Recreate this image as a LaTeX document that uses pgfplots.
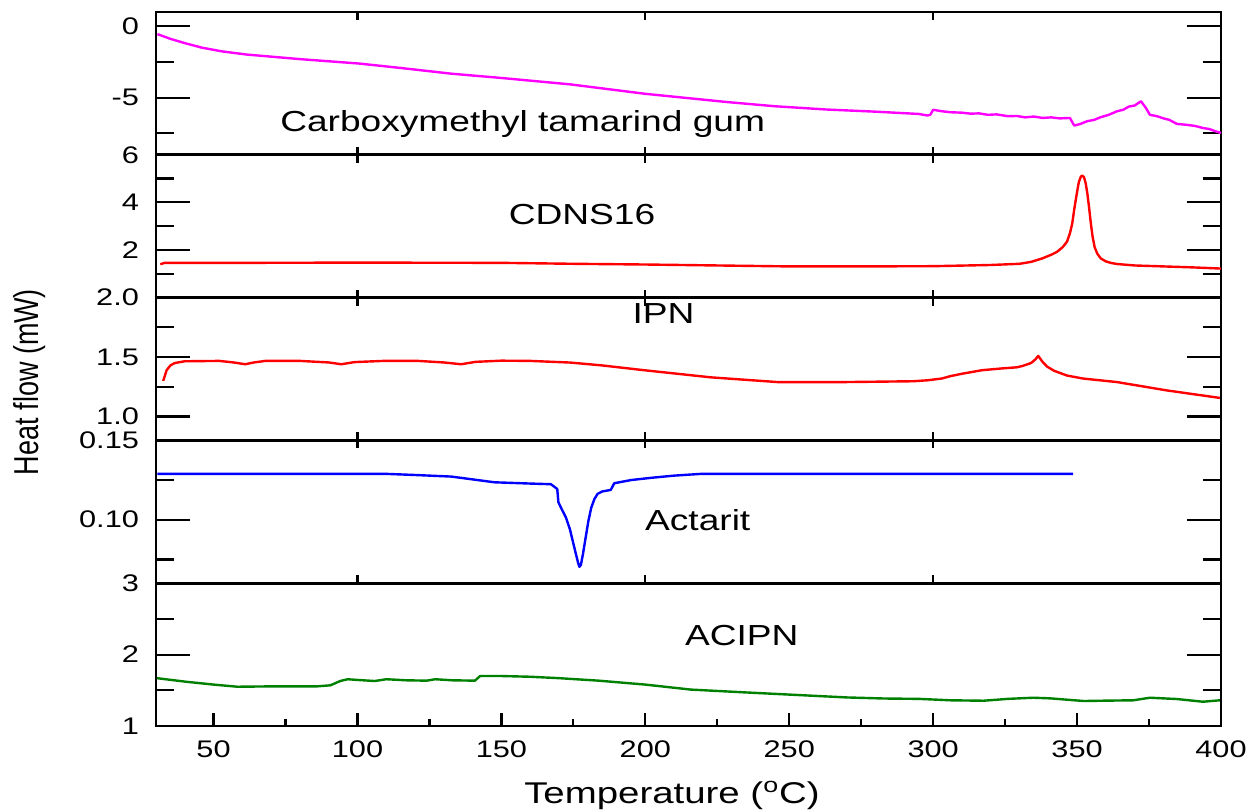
\documentclass[border=0pt]{standalone}
\usepackage{fontspec}
\setmainfont{Liberation Sans}[FakeStretch=1.28]
\newfontfamily\plainsans{Liberation Sans}
\usepackage{pgfplots}
\pgfplotsset{compat=1.18}
\definecolor{cmtg}{HTML}{FF00FF}
\definecolor{dscred}{HTML}{FF0000}
\definecolor{dscblue}{HTML}{0000FF}
\definecolor{dscgreen}{HTML}{008000}
\pgfplotsset{
  dscpanel/.style={
    scale only axis,
    width=532.5pt,
    height=71.4pt,
    xmin=30, xmax=400,
    axis line style={line width=1.3pt},
    tick align=inside,
    every tick/.style={black, line width=1.1pt},
    ytick style={/pgfplots/major tick length=17pt, /pgfplots/minor tick length=9pt},
    xtick style={/pgfplots/major tick length=4pt},
    xtick={100,200,300},
    xticklabels={},
    minor y tick num=1,
    yticklabel style={font=\fontsize{12}{14}\selectfont, xshift=-5pt},
  }
}
\tikzset{
  dscline/.style={line width=1.2pt, line join=round},
  inlabel/.style={anchor=base, font=\fontsize{14.5}{17}\selectfont}
}

\begin{document}
\begin{tikzpicture}
  % Carboxymethyl tamarind gum
  \begin{axis}[dscpanel, at={(0pt,285.6pt)}, ymin=-9, ymax=1,
      ytick={-10,-5,0}, yticklabels={-10,-5,0}]
    \addplot[dscline, cmtg] coordinates {
      (30.5,-0.55) (35,-0.88) (40,-1.18) (46,-1.5) (53,-1.76) (61.5,-1.98)
      (80,-2.3) (100.6,-2.61) (115,-2.92) (132.6,-3.32) (150,-3.62) (174,-4.07)
      (200,-4.73) (228.6,-5.31) (245,-5.6) (263,-5.83) (280,-5.98) (295,-6.14)
      (298,-6.25) (299,-6.2) (300,-5.85) (303,-5.95) (306,-6.02) (310,-6.05)
      (313,-6.12) (316,-6.1) (319,-6.2) (322,-6.17) (326,-6.3) (329,-6.28)
      (332,-6.38) (335,-6.32) (338,-6.42) (341,-6.38) (344,-6.45) (347.5,-6.42)
      (349,-6.95) (351,-6.85) (353.5,-6.65) (356,-6.55) (358,-6.38) (361,-6.2)
      (363.9,-5.95) (366,-5.85) (368,-5.62) (370,-5.55) (372.2,-5.25)
      (374,-5.75) (375.3,-6.2) (377.8,-6.3) (380,-6.45) (382,-6.55) (384.7,-6.84)
      (388,-6.9) (391,-6.98) (393.7,-7.12) (396,-7.2) (398,-7.35) (400,-7.47)
    };
    \node[inlabel] at (axis cs:157.4,-7.36) {Carboxymethyl tamarind gum};
  \end{axis}
  % CDNS16
  \begin{axis}[dscpanel, at={(0pt,214.2pt)}, ymin=0, ymax=6,
      ytick={0,2,4,6}, yticklabels={,2,4,6}]
    \addplot[dscline, dscred] coordinates {
      (31.5,1.40) (33,1.46) (60,1.46) (100,1.47) (150,1.46) (175,1.42) (200,1.39)
      (225,1.35) (250,1.31) (275,1.31) (300,1.32) (320,1.37) (330,1.42) (334,1.5)
      (338,1.65) (341,1.8) (343,1.92) (345,2.12) (346.5,2.35) (347.5,2.7)
      (348.3,3.1) (349,3.7) (349.8,4.3) (350.6,4.85) (351.3,5.08) (351.8,5.13)
      (352.4,5.06) (353,4.8) (353.6,4.35) (354.2,3.75) (354.8,3.1) (355.4,2.55)
      (356.1,2.12) (357,1.85) (358.2,1.65) (360,1.52) (362,1.45) (364,1.41)
      (370,1.35) (375,1.33) (390,1.27) (400,1.22)
    };
    \node[inlabel] at (axis cs:178,3.09) {CDNS16};
  \end{axis}
  % IPN
  \begin{axis}[dscpanel, at={(0pt,142.8pt)}, ymin=0.8, ymax=2.0,
      ytick={0.5,1.0,1.5,2.0}, yticklabels={0.5,1.0,1.5,2.0}]
    \addplot[dscline, dscred] coordinates {
      (32.5,1.30) (33.7,1.39) (35,1.43) (36.5,1.45) (40,1.465) (52,1.468) (57,1.455)
      (61,1.44) (64,1.455) (68,1.468) (80,1.468) (90,1.455) (94.4,1.44)
      (99,1.458) (109,1.468) (121,1.468) (130,1.455) (136,1.44) (141,1.46)
      (150,1.47) (160,1.468) (174,1.454) (185,1.43) (199.5,1.39) (222.7,1.33)
      (246,1.29) (268.9,1.29) (293,1.297) (298,1.305) (303,1.32) (306,1.34)
      (310,1.36) (317,1.39) (324,1.405) (329,1.414) (331,1.425) (334,1.45)
      (335.5,1.48) (336.5,1.51) (338,1.46) (339.6,1.42) (342,1.385) (346.5,1.345)
      (352,1.32) (363.9,1.29) (381.2,1.22) (399.6,1.157)
    };
    \node[inlabel] at (axis cs:206.3,1.779) {IPN};
  \end{axis}
  % Actarit
  \begin{axis}[dscpanel, at={(0pt,71.4pt)}, ymin=0.06, ymax=0.15,
      ytick={0.05,0.10,0.15}, yticklabels={0.05,0.10,0.15}]
    \addplot[dscline, dscblue] coordinates {
      (30.5,0.1289) (110,0.1289) (120,0.1282) (132.6,0.1272) (147.6,0.1236)
      (160,0.1228) (167.2,0.1224) (169.4,0.1194) (169.8,0.111) (171,0.1065)
      (172.4,0.1015) (173.8,0.094) (175,0.085) (176,0.0775) (176.7,0.0725)
      (177.1,0.0703) (177.6,0.0715) (178.3,0.078) (179.2,0.088) (180.2,0.099)
      (181.2,0.1075) (182.3,0.1130) (183.4,0.1163) (185,0.1178) (188,0.1188)
      (189.2,0.123) (195,0.1250) (201.9,0.1264) (210,0.1278) (219.3,0.1289)
      (348.6,0.1289)
    };
    \node[inlabel] at (axis cs:218.2,0.0935) {Actarit};
  \end{axis}
  % ACIPN
  \begin{axis}[dscpanel, at={(0pt,0pt)}, ymin=1, ymax=3,
      ytick={1,2,3}, yticklabels={1,2,3},
      xtick={50,100,150,200,250,300,350,400},
      xticklabels={50,100,150,200,250,300,350,400},
      minor x tick num=1, xtick pos=left,
      xtick style={/pgfplots/major tick length=6.5pt, /pgfplots/minor tick length=3.5pt},
      xticklabel style={font=\fontsize{12}{14}\selectfont, yshift=-4pt}]
    \addplot[dscline, dscgreen] coordinates {
      (30.3,1.67) (40.4,1.62) (50,1.58) (58.3,1.55) (70,1.555) (85.8,1.555)
      (90.6,1.57) (94,1.63) (96.6,1.655) (100,1.645) (106,1.63) (110,1.655)
      (117,1.64) (124,1.635) (127,1.655) (133,1.64) (140.8,1.635) (142.6,1.70)
      (150,1.70) (159.9,1.69) (170,1.67) (183.8,1.635) (200,1.58) (215.8,1.51)
      (235,1.47) (255,1.43) (270,1.40) (283,1.385) (295,1.38) (306,1.36)
      (317.5,1.354) (326,1.38) (334.8,1.396) (340.7,1.387) (352.3,1.35)
      (360,1.355) (369.5,1.36) (375.3,1.396) (384.6,1.378) (393.7,1.34) (399.6,1.36)
    };
    \node[inlabel] at (axis cs:233.5,2.133) {ACIPN};
  \end{axis}
  \node[rotate=90] at (-63pt,172pt)
    {\plainsans\fontsize{13.5}{16}\selectfont\scalebox{1}[1.28]{Heat flow (mW)}};
  \node[anchor=base, font=\fontsize{15}{18}\selectfont] at (258pt,-38.5pt)
    {Temperature (\textsuperscript{o}C)};
  \pgfresetboundingbox
  \path[use as bounding box] (-78pt,-41.5pt) rectangle (545.5pt,363pt);
\end{tikzpicture}
\end{document}
